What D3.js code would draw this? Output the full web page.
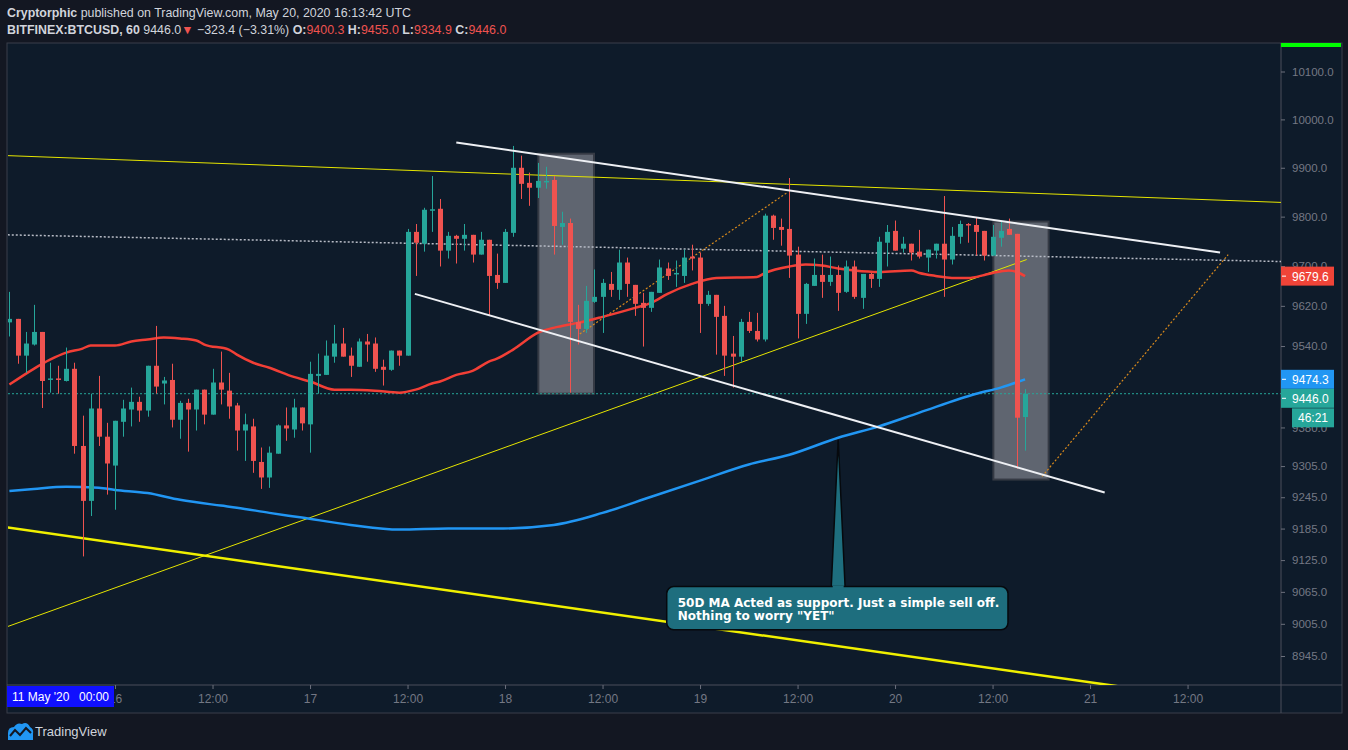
<!DOCTYPE html>
<html>
<head>
<meta charset="utf-8">
<script src="https://cdn.jsdelivr.net/npm/d3@7"></script>
<style>
body { margin: 0; background: #131722; }
svg text { font-family: "Liberation Sans", Arial, sans-serif; }
</style>
</head>
<body>
<svg id="chart" width="1348" height="750"></svg>
<script>
// BITFINEX:BTCUSD 60 min candles, 15 May 2020 11:00 UTC -> 20 May 2020 16:00 UTC
var startTime = Date.UTC(2020, 4, 15, 11);
var HOUR = 3600 * 1000;

var opens = [9587,9594,9521,9543,9568,9474,9476,9471,9495,9344,9238,9417,9362,9306,9391,9415,9430,9413,9501,9466,
  9473,9395,9428,9415,9454,9405,9468,9452,9423,9374,9382,9313,9283,9329,9384,9376,9419,9386,9481,9483,
  9519,9545,9521,9499,9549,9545,9499,9493,9531,9521,9769,9745,9812,9816,9731,9761,9755,9763,9723,9753,
  9682,9666,9767,9900,9869,9859,9871,9875,9779,9787,9588,9574,9628,9638,9664,9652,9707,9662,9626,9616,
  9646,9695,9683,9680,9719,9717,9624,9642,9600,9525,9519,9588,9570,9553,9802,9779,9775,9723,9604,9660,
  9682,9668,9682,9648,9699,9636,9684,9674,9747,9771,9735,9745,9729,9717,9731,9745,9713,9759,9785,9783,
  9771,9721,9757,9775,9765,9400.3];
var highs = [9648,9594,9568,9622,9568,9507,9501,9537,9507,9403,9446,9481,9389,9393,9434,9458,9440,9501,9580,9479,
  9505,9432,9436,9454,9454,9495,9529,9487,9428,9407,9397,9341,9343,9386,9419,9436,9419,9509,9525,9551,
  9582,9576,9537,9555,9564,9557,9513,9531,9531,9775,9785,9818,9883,9836,9769,9763,9785,9763,9769,9753,
  9725,9775,9945,9925,9890,9910,9902,9883,9810,9796,9622,9660,9693,9674,9688,9733,9717,9662,9646,9648,
  9713,9707,9711,9733,9743,9727,9650,9642,9620,9560,9594,9608,9606,9806,9804,9796,9879,9739,9666,9715,
  9723,9719,9701,9711,9711,9684,9686,9759,9783,9792,9759,9745,9773,9733,9745,9842,9779,9792,9787,9798,
  9771,9783,9792,9796,9765,9455.0];
var lows = [9559,9505,9487,9541,9418,9448,9446,9470,9329,9132,9209,9344,9250,9221,9362,9382,9391,9401,9446,9425,
  9380,9358,9333,9374,9386,9405,9425,9397,9335,9315,9292,9261,9263,9329,9354,9360,9374,9331,9446,9483,
  9507,9519,9479,9499,9509,9489,9462,9491,9501,9521,9680,9729,9769,9699,9715,9705,9731,9707,9723,9600,
  9654,9666,9759,9836,9822,9838,9857,9723,9743,9448,9543,9566,9626,9566,9638,9632,9638,9600,9539,9608,
  9646,9672,9658,9666,9691,9566,9620,9523,9481,9458,9509,9566,9549,9549,9753,9741,9676,9555,9584,9660,
  9636,9660,9610,9646,9634,9614,9656,9658,9699,9731,9727,9711,9715,9688,9715,9638,9703,9745,9747,9721,
  9711,9721,9739,9763,9300,9334.9];
var closes = [9594,9521,9545,9568,9471,9476,9473,9495,9344,9238,9417,9362,9310,9393,9417,9430,9413,9501,9460,9472,
  9395,9428,9415,9454,9405,9468,9454,9421,9374,9386,9315,9283,9331,9384,9378,9419,9388,9485,9485,9521,
  9545,9519,9501,9549,9543,9495,9493,9531,9521,9769,9747,9814,9815,9731,9761,9755,9763,9723,9753,9680,
  9666,9769,9900,9867,9859,9873,9873,9781,9787,9588,9574,9630,9638,9666,9652,9707,9664,9624,9616,9648,
  9697,9680,9686,9717,9715,9624,9642,9598,9521,9519,9588,9570,9553,9802,9777,9773,9721,9604,9664,9682,
  9668,9682,9646,9699,9638,9684,9674,9749,9769,9731,9745,9727,9719,9733,9745,9713,9761,9785,9783,9769,
  9721,9759,9771,9763,9399,9446.0];

// moving averages (candle index, price)
var redMaIdx = [0,3,5,7,9,10,13,15,17,19,21,23,24,27,28,30,32,35,37,40,42,45,48,50,52,53,55,57,59,60,62,65,68,70,73,77,79,81,84,87,92,93,96,98,100,102,104,107,111,112,114,116,118,120,121,123,124,125];
var redMaVal = [9464,9495,9513,9527,9535,9541,9541,9549,9553,9557,9555,9551,9543,9533,9523,9507,9497,9479,9470,9454,9454,9452,9448,9454,9466,9470,9483,9491,9509,9515,9533,9566,9580,9586,9598,9616,9626,9644,9664,9676,9678,9686,9699,9703,9701,9695,9691,9688,9691,9686,9680,9676,9676,9682,9686,9691,9688,9679.6];
var blueMaIdx = [0,3,7,11,13,17,21,26,28,32,36,42,48,54,60,67,73,79,85,91,96,102,107,112,119,122,125];
var blueMaVal = [9257,9261,9265,9263,9259,9253,9240,9229,9225,9215,9206,9192,9183,9185,9185,9192,9215,9246,9277,9308,9327,9360,9382,9409,9446,9458,9474.3];

// 9460.0 sits under the price tags, as in the picture
var priceTicks = [10100,10000,9900,9800,9700,9620,9540,9380,9305,9245,9185,9125,9065,9005,8945];

// drawings: [candle index, price] end points
var yellowLines = [[[-0.2, 9925], [156.5, 9829]], [[-0.2, 9000], [125.2, 9713]]];
var yellowThick = [[-0.2, 9187], [156.5, 8846]];
var channelLines = [[[55, 9952], [149, 9727]], [[49.9, 9644], [134.8, 9254]]];
var dottedLevel = [[-0.2, 9763], [156.5, 9709]];
var orangeLines = [[[70.2, 9564], [95.8, 9850]], [[127.1, 9285], [150, 9723]]];
var boxes = [[65.1, 9929, 71.95, 9446], [121.1, 9790, 127.9, 9279]];
var callout = { tip: [102, 9356], left: 80.9, right: 122.9, top: 9075, bottom: 8994,
  lines: ['50D MA Acted as support. Just a simple sell off.', 'Nothing to worry "YET"'] };

var svg = d3.select("#chart");
var L = 8, R = 1281, T = 44, B = 685;

var x = d3.scaleUtc()
    .domain([new Date(startTime), new Date(startTime + 156.5 * HOUR)])
    .range([9.4, R]);
var y = d3.scaleLog().domain([8945, 10100]).range([656, 71.5]);
function xi(i) { return x(new Date(startTime + i * HOUR)); }

// frame
svg.append("rect").attr("width", 1348).attr("height", 750).attr("fill", "#131722");
svg.append("rect").attr("x", 7).attr("y", 43).attr("width", 1335).attr("height", 670)
    .attr("fill", "#0e1b2a").attr("stroke", "#3b3f4a");
svg.append("line").attr("x1", R).attr("x2", R).attr("y1", 43).attr("y2", 713).attr("stroke", "#4a4e5a");
svg.append("line").attr("x1", 7).attr("x2", 1342).attr("y1", B).attr("y2", B).attr("stroke", "#4a4e5a");
svg.append("rect").attr("x", R).attr("y", 43).attr("width", 60).attr("height", 4).attr("fill", "#00ff00");

svg.append("clipPath").attr("id", "clip").append("rect")
    .attr("x", L).attr("y", T).attr("width", R - L).attr("height", B - T);
svg.append("clipPath").attr("id", "clipx").append("rect")
    .attr("x", 7).attr("y", B).attr("width", R - 7).attr("height", 28);
var g = svg.append("g").attr("clip-path", "url(#clip)");

// highlight boxes
g.selectAll("rect.box").data(boxes).enter().append("rect")
    .attr("class", "box")
    .attr("x", function (d) { return xi(d[0]); })
    .attr("y", function (d) { return y(d[1]); })
    .attr("width", function (d) { return xi(d[2]) - xi(d[0]); })
    .attr("height", function (d) { return y(d[3]) - y(d[1]); })
    .attr("fill", "#5f6570").attr("stroke", "#353a44").attr("stroke-width", 2);

function seg(sel, p, color, w, dash) {
    sel.append("line")
        .attr("x1", xi(p[0][0])).attr("y1", y(p[0][1]))
        .attr("x2", xi(p[1][0])).attr("y2", y(p[1][1]))
        .attr("stroke", color).attr("stroke-width", w)
        .attr("stroke-dasharray", dash || null);
}
yellowLines.forEach(function (p) { seg(g, p, "#e5e500", 1); });
seg(g, yellowThick, "#f0f000", 2.5);
seg(g, dottedLevel, "#b8bcc6", 1.5, "2,2");
orangeLines.forEach(function (p) { seg(g, p, "#d98a1c", 1.2, "2,2"); });

// last price line
g.append("line").attr("x1", L).attr("x2", R)
    .attr("y1", y(closes[closes.length - 1])).attr("y2", y(closes[closes.length - 1]))
    .attr("stroke", "#26a69a").attr("stroke-dasharray", "2,2");

// moving averages
var maLine = d3.line().curve(d3.curveMonotoneX)
    .x(function (d) { return xi(d[0]); })
    .y(function (d) { return y(d[1]); });
g.append("path").datum(d3.zip(blueMaIdx, blueMaVal)).attr("d", maLine)
    .attr("fill", "none").attr("stroke", "#2196f3").attr("stroke-width", 2.5);
g.append("path").datum(d3.zip(redMaIdx, redMaVal)).attr("d", maLine)
    .attr("fill", "none").attr("stroke", "#f23f36").attr("stroke-width", 2.5);

// candles
var candles = opens.map(function (o, i) {
    return { i: i, o: o, h: highs[i], l: lows[i], c: closes[i] };
});
var cg = g.selectAll("g.candle").data(candles).enter().append("g").attr("class", "candle")
    .attr("fill", function (d) { return d.c >= d.o ? "#26a69a" : "#ef5350"; })
    .attr("stroke", function (d) { return d.c >= d.o ? "#26a69a" : "#ef5350"; });
cg.append("line")
    .attr("x1", function (d) { return Math.round(xi(d.i)) + 0.5; })
    .attr("x2", function (d) { return Math.round(xi(d.i)) + 0.5; })
    .attr("y1", function (d) { return y(d.h); })
    .attr("y2", function (d) { return y(d.l); });
cg.append("rect").attr("stroke", "none")
    .attr("x", function (d) { return Math.round(xi(d.i)) - 2; })
    .attr("width", 5)
    .attr("y", function (d) { return y(Math.max(d.o, d.c)); })
    .attr("height", function (d) { return Math.max(1.5, y(Math.min(d.o, d.c)) - y(Math.max(d.o, d.c))); });

// channel lines over candles
channelLines.forEach(function (p) { seg(g, p, "#eef0f4", 2); });

// callout
var tipX = xi(callout.tip[0]), tipY = y(callout.tip[1]);
var bx0 = xi(callout.left), bx1 = xi(callout.right), by0 = y(callout.top), by1 = y(callout.bottom);
svg.append("path")
    .attr("d", "M" + (tipX - 7) + "," + (by0 + 2) + "L" + tipX + "," + tipY + "L" + (tipX + 7) + "," + (by0 + 2) + "Z")
    .attr("fill", "#1e6e7e").attr("stroke", "#06090d").attr("stroke-width", 1.5);
svg.append("rect").attr("x", bx0).attr("y", by0).attr("width", bx1 - bx0).attr("height", by1 - by0)
    .attr("rx", 7).attr("fill", "#1e6e7e").attr("stroke", "#06090d").attr("stroke-width", 1.5);
svg.append("rect").attr("x", tipX - 5.5).attr("y", by0 - 1).attr("width", 11).attr("height", 4).attr("fill", "#1e6e7e");
svg.selectAll("text.note").data(callout.lines).enter().append("text")
    .attr("class", "note")
    .attr("x", bx0 + 11).attr("y", function (d, i) { return by0 + 20 + i * 13; })
    .style("font-family", "'DejaVu Sans', sans-serif").style("font-weight", "bold")
    .style("font-size", "12px").attr("fill", "#ffffff").text(function (d) { return d; });

// right price axis
var yAxis = svg.append("g").attr("transform", "translate(" + R + ",0)")
    .call(d3.axisRight(y).tickValues(priceTicks).tickFormat(d3.format(".1f")).tickSize(4).tickPadding(7));
yAxis.select(".domain").remove();
yAxis.selectAll("line").attr("stroke", "#6c707c");
yAxis.selectAll("text").attr("fill", "#747884").style("font-size", "11.5px")
    .style("font-family", "'Liberation Sans', Arial, sans-serif");

// bottom time axis (the 15 May 12:00 tick is hidden under the date tag)
var timeTicks = x.ticks(d3.utcHour.every(12)).filter(function (d) { return x(d) > 60; });
var xAxis = svg.append("g").attr("clip-path", "url(#clipx)")
  .append("g").attr("transform", "translate(0," + B + ")")
    .call(d3.axisBottom(x).tickValues(timeTicks).tickSize(4).tickPadding(5)
        .tickFormat(function (d) { return d.getUTCHours() === 0 ? d3.utcFormat("%-d")(d) : "12:00"; }));
xAxis.select(".domain").remove();
xAxis.selectAll("line").attr("stroke", "#6c707c");
xAxis.selectAll("text").attr("fill", "#747884").style("font-size", "12px")
    .style("font-family", "'Liberation Sans', Arial, sans-serif");

svg.append("rect").attr("x", 7).attr("y", 686).attr("width", 107).attr("height", 21).attr("fill", "#1010ff");
svg.append("text").attr("x", 12).attr("y", 701).attr("fill", "#ffffff").style("font-size", "12px").text("11 May '20");
svg.append("text").attr("x", 79).attr("y", 701).attr("fill", "#ffffff").style("font-size", "12px").text("00:00");

// price labels
function priceTag(cy, color, label, x0, w) {
    svg.append("rect").attr("x", x0).attr("y", cy - 9.5).attr("width", w).attr("height", 19).attr("fill", color);
    if (x0 === R) {
        svg.append("line").attr("x1", R + 1).attr("x2", R + 5).attr("y1", cy).attr("y2", cy).attr("stroke", "#ffffff");
    }
    svg.append("text").attr("x", x0 + (x0 === R ? 11 : 6)).attr("y", cy + 4.5).attr("fill", "#ffffff")
        .style("font-size", "12px").text(label);
}
var redY = y(redMaVal[redMaVal.length - 1]);
var blueY = y(blueMaVal[blueMaVal.length - 1]);
var lastY = Math.max(y(closes[closes.length - 1]), blueY + 19);
priceTag(redY, "#f04438", d3.format(".1f")(redMaVal[redMaVal.length - 1]), R, 53);
priceTag(blueY, "#2196f3", d3.format(".1f")(blueMaVal[blueMaVal.length - 1]), R, 53);
priceTag(lastY, "#26a69a", d3.format(".1f")(closes[closes.length - 1]), R, 53);
priceTag(lastY + 19.5, "#26a69a", "46:21", R + 11, 42);

// header
var h1 = svg.append("text").attr("x", 7).attr("y", 17).attr("fill", "#d1d4dc").style("font-size", "12.4px");
h1.append("tspan").style("font-weight", "bold").text("Cryptorphic");
h1.append("tspan").text(" published on TradingView.com, May 20, 2020 16:13:42 UTC");

var last = closes.length - 1;
var change = closes[last] - 9769.4;
var h2 = svg.append("text").attr("x", 7).attr("y", 34).attr("fill", "#d1d4dc").style("font-size", "12.4px");
h2.append("tspan").style("font-weight", "bold").text("BITFINEX:BTCUSD, 60");
h2.append("tspan").text(" " + d3.format(".1f")(closes[last]));
h2.append("tspan").attr("fill", "#ef5350").text("\u25BC");
h2.append("tspan").text(" \u2212" + d3.format(".1f")(-change) + " (\u22123.31%) ");
[["O:", opens[last]], ["H:", highs[last]], ["L:", lows[last]], ["C:", closes[last]]].forEach(function (p, k) {
    h2.append("tspan").style("font-weight", "bold").text((k ? " " : "") + p[0]);
    h2.append("tspan").attr("fill", "#ef5350").text(d3.format(".1f")(p[1]));
});

// logo
svg.append("path")
    .attr("d", "M8,740 L8,733 Q8,727 14,727 Q17,722 22,724 Q27,721 30,727 Q34,729 33,734 L33,740 Z")
    .attr("fill", "#2196f3");
svg.append("path").attr("d", "M10,736 L15,730 L20,735 L26,728 L31,733")
    .attr("fill", "none").attr("stroke", "#131722").attr("stroke-width", 2);
svg.append("text").attr("x", 35).attr("y", 736).attr("fill", "#d1d4dc").style("font-size", "13px").text("TradingView");
</script>
</body>
</html>
